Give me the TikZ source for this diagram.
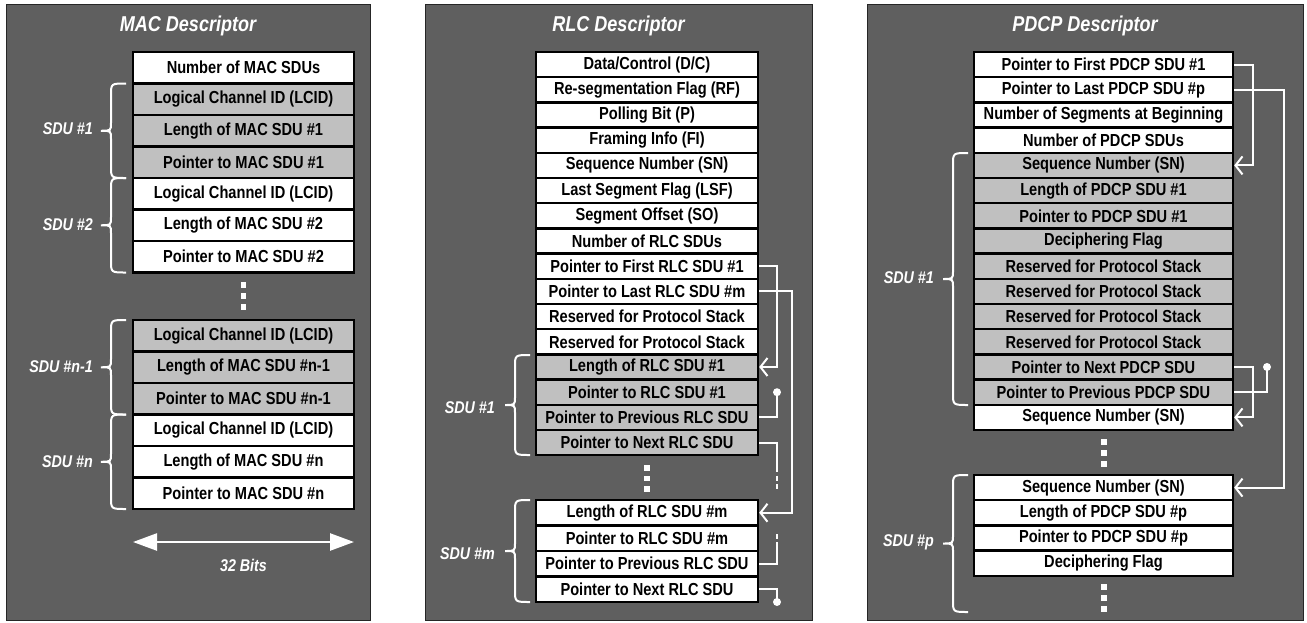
\documentclass[tikz,border=0pt]{standalone}
\usepackage{fontspec}
\setmainfont{Liberation Sans}[FakeStretch=0.84]
\usetikzlibrary{arrows.meta}
\definecolor{panel}{HTML}{5F5F5F}
\definecolor{lgray}{HTML}{C0C0C0}
\newcommand\cellfont{\bfseries\fontsize{17.4}{19}\selectfont}
\newcommand\titlefont{\bfseries\itshape\fontsize{21.5}{24}\selectfont}
\newcommand\lblfont{\bfseries\itshape\fontsize{17}{19}\selectfont}
% #1 prefix, #2 centre x, #3 width, #4 top y, #5 row height, #6 grey from, #7 grey to, #8 texts
\newcommand\mkcol[8]{%
  \foreach \t [count=\i] in {#8} {%
    \pgfmathsetmacro\yy{#4+(\i-0.5)*#5}%
    \def\ff{white}%
    \ifnum\i<#6 \else \ifnum\i>#7 \else \def\ff{lgray}\fi\fi
    \node[cell, fill=\ff, minimum width=#3pt, minimum height=#5pt] (#1\i) at (#2,\yy) {\t};
  }}
% #1 end x, #2 top y, #3 bottom y
\newcommand\sdubrace[3]{%
  \pgfmathsetmacro\bm{(#2+#3)/2}%
  \draw[bracestyle] (#1,#2) .. controls (#1-15,#2) .. (#1-15,#2+12) -- (#1-15,\bm-8)
     .. controls (#1-15,\bm) .. (#1-25,\bm) .. controls (#1-15,\bm) .. (#1-15,\bm+8)
     -- (#1-15,#3-12) .. controls (#1-15,#3) .. (#1,#3);}
\newcommand\wdots[4]{\foreach \yy in {#2,#3,#4} \fill[white] (#1-2.6,\yy-2.6) rectangle ++(5.2,5.2);}
\begin{document}
\begin{tikzpicture}[x=1pt,y=-1pt,
  cell/.style={draw=black, line width=2.4pt, inner sep=0pt, font=\cellfont, text=black},
  paneltitle/.style={text=white, font=\titlefont, inner sep=0pt},
  sdulbl/.style={text=white, font=\lblfont, inner sep=0pt, anchor=east},
  bracestyle/.style={draw=white, line width=2pt},
  conn/.style={draw=white, line width=2pt},
  barb/.style={-{Straight Barb[length=7pt,width=18pt,line width=2pt]}},
  panelbox/.style={fill=panel, draw=black!85, line width=1pt}]
\useasboundingbox (0,0) rectangle (1307,622);
\fill[white] (0,0) rectangle (1307,622);
% panels
\draw[panelbox] (6,4) rectangle (370,620);
\draw[panelbox] (425,4) rectangle (812,620);
\draw[panelbox] (867,4) rectangle (1303,620);
\node[paneltitle] (tmac) at (188,26) {MAC Descriptor};
\node[paneltitle] (trlc) at (618.5,26) {RLC Descriptor};
\node[paneltitle] (tpdcp) at (1085,26) {PDCP Descriptor};
% ---------------- MAC ----------------
\mkcol{macA}{243.5}{221}{52}{31.5}{2}{4}{Number of MAC SDUs, Logical Channel ID (LCID), Length of MAC SDU \#1, Pointer to MAC SDU \#1, Logical Channel ID (LCID), Length of MAC SDU \#2, Pointer to MAC SDU \#2}
\mkcol{macB}{243.5}{221}{320}{31.5}{1}{3}{Logical Channel ID (LCID), Length of MAC SDU \#n-1, Pointer to MAC SDU \#n-1, Logical Channel ID (LCID), Length of MAC SDU \#n, Pointer to MAC SDU \#n}
\wdots{243.5}{285}{296}{307}
\sdubrace{126}{83.5}{178}
\sdubrace{126}{178}{272.5}
\sdubrace{126}{320}{414.5}
\sdubrace{126}{414.5}{509}
\node[sdulbl] (lm1) at (93,129) {SDU \#1};
\node[sdulbl] (lm2) at (93,225) {SDU \#2};
\node[sdulbl] (lm3) at (93,367) {SDU \#n-1};
\node[sdulbl] (lm4) at (93,462) {SDU \#n};
\coordinate (bitsL) at (133,542);
\coordinate (bitsR) at (354,542);
\draw[white, line width=2.5pt, {Triangle[length=24pt,width=17pt]}-{Triangle[length=24pt,width=17pt]}] (bitsL) -- (bitsR);
\node[text=white, font=\lblfont, inner sep=0pt] (bits) at (243.5,565) {32 Bits};
% ---------------- RLC ----------------
\mkcol{rlcA}{647}{222}{52}{25.2}{13}{16}{Data/Control (D/C), Re-segmentation Flag (RF), Polling Bit (P), Framing Info (FI), Sequence Number (SN), Last Segment Flag (LSF), Segment Offset (SO), Number of RLC SDUs, Pointer to First RLC SDU \#1, Pointer to Last RLC SDU \#m, Reserved for Protocol Stack, Reserved for Protocol Stack, Length of RLC SDU \#1, Pointer to RLC SDU \#1, Pointer to Previous RLC SDU, Pointer to Next RLC SDU}
\mkcol{rlcB}{647}{222}{500}{25.5}{99}{0}{Length of RLC SDU \#m, Pointer to RLC SDU \#m, Pointer to Previous RLC SDU, Pointer to Next RLC SDU}
\wdots{647}{468}{478.5}{489}
\sdubrace{530}{355}{455}
\sdubrace{530}{500}{602}
\node[sdulbl] (lr1) at (495,408) {SDU \#1};
\node[sdulbl] (lr2) at (495,554) {SDU \#m};
\coordinate (rx1) at (777,0);
\coordinate (rx2) at (792,0);
\draw[conn,barb] (rlcA9.east) -- (rlcA9.east -| rx1) |- (rlcA13.east);
\draw[conn,barb] (rlcA10.east) -- (rlcA10.east -| rx2) |- (rlcB1.east);
\draw[conn] (rlcA15.east) -| (rlcA14.east -| rx1);
\fill[white] (rlcA14.east -| rx1) circle (4pt);
\coordinate (n1s) at (777,467);
\coordinate (n1e) at (777,491);
\draw[conn] (rlcA16.east) -| (n1s);
\draw[conn, dash pattern=on 5pt off 3.5pt] (n1s) -- (n1e);
\coordinate (pm1) at (777,547);
\coordinate (pm2) at (777,531);
\draw[conn] (rlcB3.east) -| (pm1);
\draw[conn, dash pattern=on 5pt off 3.5pt] (pm1) -- (pm2);
\coordinate (nme) at (777,602);
\draw[conn] (rlcB4.east) -| (nme);
\fill[white] (nme) circle (4pt);
% ---------------- PDCP ----------------
\mkcol{pdA}{1103.5}{259}{52}{25.2}{5}{14}{Pointer to First PDCP SDU \#1, Pointer to Last PDCP SDU \#p, Number of Segments at Beginning, Number of PDCP SDUs, Sequence Number (SN), Length of PDCP SDU \#1, Pointer to PDCP SDU \#1, Deciphering Flag, Reserved for Protocol Stack, Reserved for Protocol Stack, Reserved for Protocol Stack, Reserved for Protocol Stack, Pointer to Next PDCP SDU, Pointer to Previous PDCP SDU, Sequence Number (SN)}
\mkcol{pdB}{1103.5}{259}{475}{25.2}{99}{0}{Sequence Number (SN), Length of PDCP SDU \#p, Pointer to PDCP SDU \#p, Deciphering Flag}
\wdots{1104}{442}{453}{464}
\wdots{1104}{587}{598}{609}
\sdubrace{968}{153}{405}
\sdubrace{968}{475}{612}
\node[sdulbl] (lp1) at (934,278) {SDU \#1};
\node[sdulbl] (lp2) at (934,542) {SDU \#p};
\coordinate (px1) at (1253,0);
\coordinate (px2) at (1284,0);
\coordinate (px3) at (1267,0);
\draw[conn,barb] (pdA1.east) -- (pdA1.east -| px1) |- (pdA5.east);
\draw[conn,barb] (pdA2.east) -- (pdA2.east -| px2) |- (pdB1.east);
\draw[conn,barb] (pdA13.east) -- (pdA13.east -| px1) |- (pdA15.east);
\draw[conn] (pdA14.east) -| (pdA13.east -| px3);
\fill[white] (pdA13.east -| px3) circle (4pt);
\end{tikzpicture}
\end{document}
